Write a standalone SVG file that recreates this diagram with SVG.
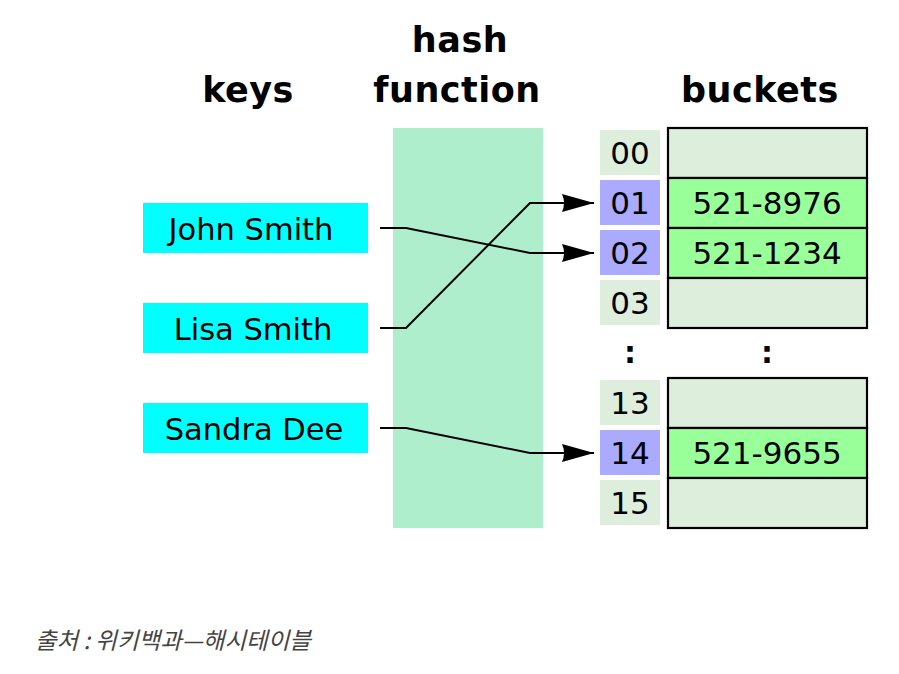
<svg xmlns="http://www.w3.org/2000/svg" width="899" height="674" viewBox="0 0 899 674">
<defs>
<style>
.title{font-family:"DejaVu Sans",sans-serif;font-weight:bold;font-size:35px;fill:#000;text-anchor:middle;letter-spacing:0.5px}
.key rect{fill:#00ffff}
.lbl{font-family:"DejaVu Sans",sans-serif;font-size:30.5px;fill:#000;text-anchor:middle}
.num{font-family:"DejaVu Sans",sans-serif;font-size:31px;fill:#000;text-anchor:middle}
.idx{fill:#ddeedd}
.idx.hit{fill:#aaaaff}
.bk{stroke:#000;stroke-width:2.2}
.empty{fill:#ddeedd}
.full{fill:#99ff99}
.conn path{fill:none;stroke:#000;stroke-width:2}
.dots{font-family:"DejaVu Sans",sans-serif;font-weight:bold;font-size:30px;fill:#000;text-anchor:middle}
.cap{font-family:"Noto Sans CJK KR","Noto Sans",sans-serif;font-style:italic;font-size:23.5px;fill:#444}
</style>
<marker id="ah" markerUnits="userSpaceOnUse" markerWidth="34" markerHeight="20" refX="32" refY="9" orient="auto">
<path d="M0,0 L32,9 L0,18 Q4,9 0,0 Z" fill="#000"/>
</marker>
</defs>
<rect width="899" height="674" fill="#fff"/>
<text class="title" x="248" y="102">keys</text>
<text class="title" x="460" y="52">hash</text>
<text class="title" x="457" y="102">function</text>
<text class="title" x="760" y="102">buckets</text>

<g id="hashfunction"><rect x="393" y="128" width="150" height="400" fill="#aeeecc"/></g>

<g id="key-john" class="key"><rect x="143" y="203" width="225" height="50"/><text class="lbl" x="251" y="240">John Smith</text></g>
<g id="key-lisa" class="key"><rect x="143" y="303" width="225" height="50"/><text class="lbl" x="253" y="340">Lisa Smith</text></g>
<g id="key-sandra" class="key"><rect x="143" y="403" width="225" height="50"/><text class="lbl" x="254" y="440">Sandra Dee</text></g>

<g id="index">
<rect class="idx" x="600" y="130" width="60" height="45"/><text class="num" x="630" y="164">00</text>
<rect class="idx hit" x="600" y="180" width="60" height="45"/><text class="num" x="630" y="214">01</text>
<rect class="idx hit" x="600" y="230" width="60" height="45"/><text class="num" x="630" y="264">02</text>
<rect class="idx" x="600" y="280" width="60" height="45"/><text class="num" x="630" y="314">03</text>
<rect class="idx" x="600" y="380" width="60" height="45"/><text class="num" x="630" y="414">13</text>
<rect class="idx hit" x="600" y="430" width="60" height="45"/><text class="num" x="630" y="464">14</text>
<rect class="idx" x="600" y="480" width="60" height="45"/><text class="num" x="630" y="514">15</text>
</g>

<g id="buckets">
<rect class="bk empty" x="668" y="128" width="199" height="50"/>
<rect class="bk full" x="668" y="178" width="199" height="50"/><text class="num" x="767" y="214">521-8976</text>
<rect class="bk full" x="668" y="228" width="199" height="50"/><text class="num" x="767" y="264">521-1234</text>
<rect class="bk empty" x="668" y="278" width="199" height="50"/>
<rect class="bk empty" x="668" y="378" width="199" height="50"/>
<rect class="bk full" x="668" y="428" width="199" height="50"/><text class="num" x="767" y="464">521-9655</text>
<rect class="bk empty" x="668" y="478" width="199" height="50"/>
</g>

<g id="dots"><text class="dots" x="630" y="363">:</text><text class="dots" x="767" y="363">:</text></g>

<g id="connectors" class="conn">
<path d="M380,228 L406,228 L530,253 L594,253" marker-end="url(#ah)"/>
<path d="M380,328 L406,328 L530,203 L594,203" marker-end="url(#ah)"/>
<path d="M380,428 L406,428 L530,453 L594,453" marker-end="url(#ah)"/>
</g>

<text class="cap" x="35" y="649">출처 : 위키백과—해시테이블</text>
</svg>
